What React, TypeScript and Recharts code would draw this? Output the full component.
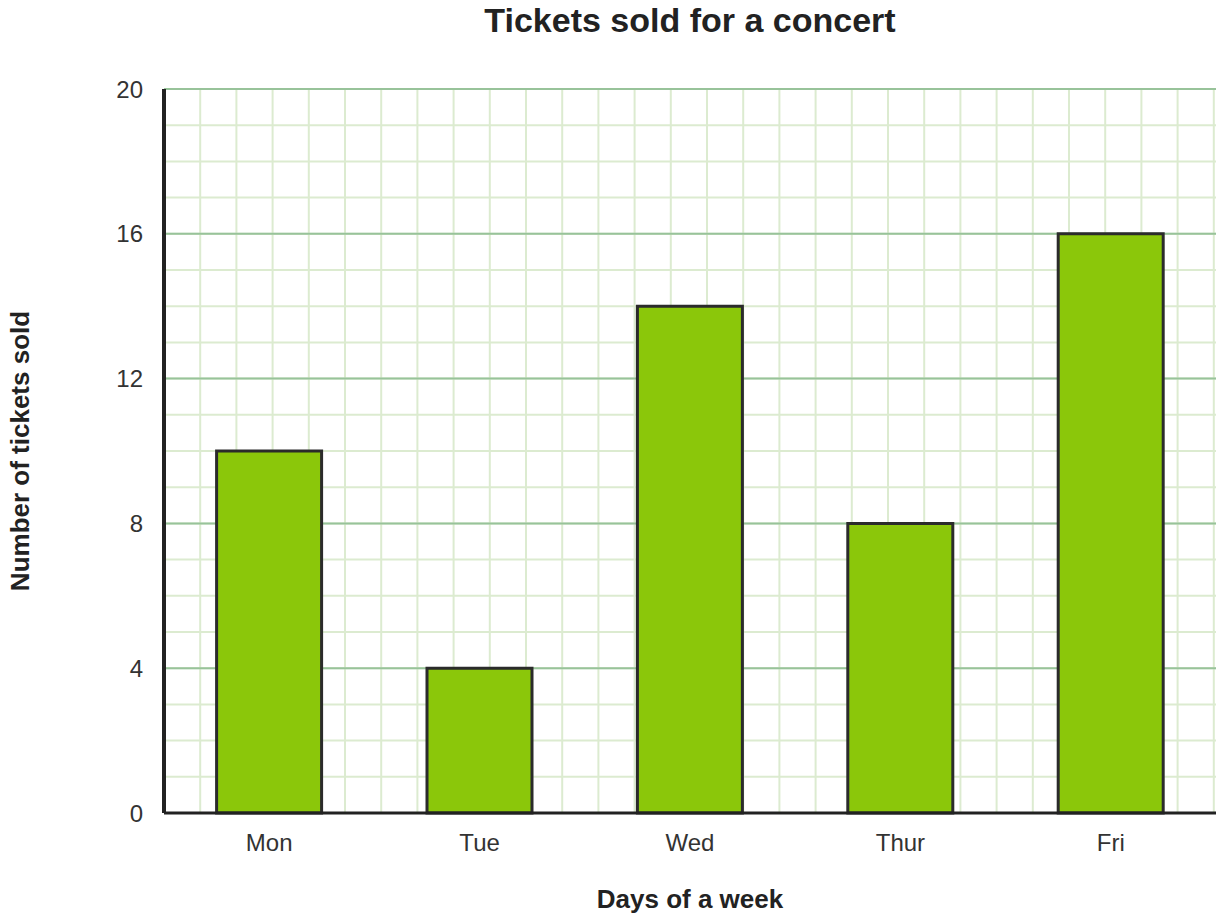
import React from "react";
import { BarChart, Bar, XAxis, YAxis, CartesianGrid } from "recharts";

const categories = ["Mon", "Tue", "Wed", "Thur", "Fri"];
const tickets = [10, 4, 14, 8, 16];
const yTicks = [0, 4, 8, 12, 16, 20];
const Y_MAX = 20;
const MINOR_STEP = 1;
const MAJOR_STEP = 4;

const data = categories.map((day, i) => ({ day, tickets: tickets[i] }));

const W = 1224;
const H = 922;
const Y_AXIS_W = 60;
const X_AXIS_H = 30;
const MARGIN = { top: 89, right: 8, bottom: 922 - 813 - X_AXIS_H, left: 164 - Y_AXIS_W };

const FONT = '"Liberation Sans", Arial, sans-serif';

function hLines(step: number) {
  return ({ offset }: any) => {
    const out: number[] = [];
    const unit = offset.height / Y_MAX;
    for (let v = 0; v <= Y_MAX; v += step) out.push(offset.top + offset.height - v * unit);
    return out;
  };
}

function vLines({ offset }: any) {
  const out: number[] = [];
  const unit = offset.height / Y_MAX;
  for (let x = offset.left + unit; x <= offset.left + offset.width + 0.5; x += unit) out.push(x);
  return out;
}

export default function App() {
  return (
    <div style={{ position: "absolute", left: 0, top: 0, width: W, height: H, background: "#fff", fontFamily: FONT }}>
      <BarChart width={W} height={H} data={data} margin={MARGIN} barCategoryGap="25%">
        <CartesianGrid
          stroke="#dcebd0"
          strokeWidth={2}
          horizontalCoordinatesGenerator={hLines(MINOR_STEP)}
          verticalCoordinatesGenerator={vLines}
        />
        <CartesianGrid
          stroke="#98c39a"
          strokeWidth={2}
          vertical={false}
          horizontalCoordinatesGenerator={hLines(MAJOR_STEP)}
        />
        <XAxis
          dataKey="day"
          height={X_AXIS_H}
          tickLine={false}
          tickSize={0}
          tickMargin={21}
          axisLine={{ stroke: "#222", strokeWidth: 3 }}
          tick={{ fill: "#333", fontSize: 24, fontFamily: FONT }}
        />
        <YAxis
          width={Y_AXIS_W}
          domain={[0, Y_MAX]}
          ticks={yTicks}
          interval={0}
          tickLine={false}
          tickSize={0}
          tickMargin={21}
          axisLine={{ stroke: "#222", strokeWidth: 4 }}
          tick={{ fill: "#333", fontSize: 24, fontFamily: FONT }}
        />
        <Bar dataKey="tickets" fill="#8bc70a" stroke="#2b2b2b" strokeWidth={3} isAnimationActive={false} />
      </BarChart>
      <div style={{ position: "absolute", left: 0, width: 1380, top: 0, textAlign: "center", fontSize: 34, fontWeight: "bold", color: "#222", lineHeight: "40px" }}>
        Tickets sold for a concert
      </div>
      <div style={{ position: "absolute", left: 0, width: 1380, top: 884, textAlign: "center", fontSize: 26, fontWeight: "bold", color: "#222", lineHeight: "30px" }}>
        Days of a week
      </div>
      <div style={{ position: "absolute", left: 20, top: 451, width: 0, height: 0 }}>
        <div style={{ position: "absolute", transform: "translate(-50%, -50%) rotate(-90deg)", whiteSpace: "nowrap", fontSize: 26, fontWeight: "bold", color: "#222", lineHeight: "30px" }}>
          Number of tickets sold
        </div>
      </div>
    </div>
  );
}
